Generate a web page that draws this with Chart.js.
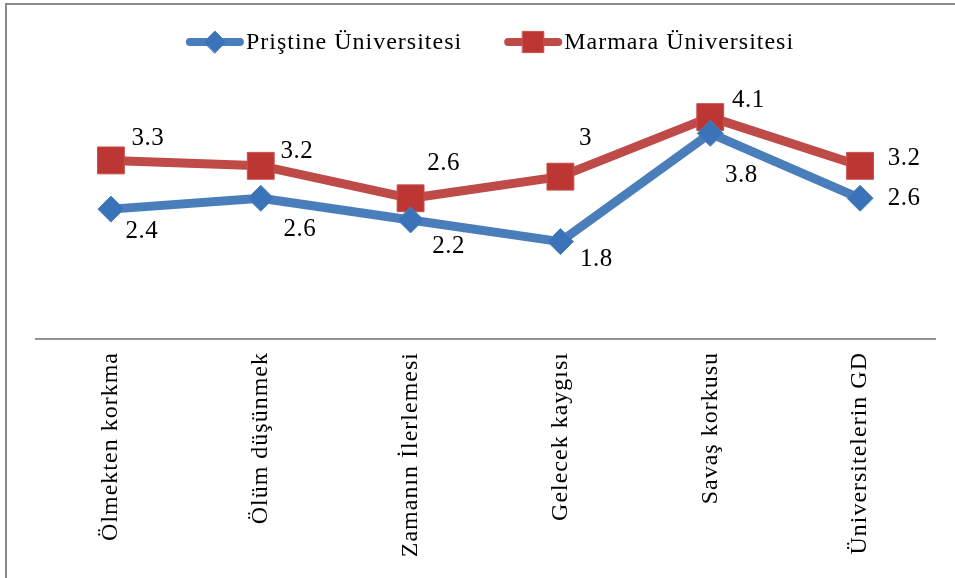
<!DOCTYPE html>
<html>
<head>
<meta charset="UTF-8">
<title>Priştine ve Marmara Üniversitesi</title>
<script src="https://cdn.jsdelivr.net/npm/chart.js"></script>
<style>
  html, body { margin: 0; padding: 0; background: #fff; }
  #box { position: relative; width: 955px; height: 578px; }
</style>
</head>
<body>
<div id="box"><canvas id="chart" width="955" height="578"></canvas></div>
<script>
const categories = ['Ölmekten korkma', 'Ölüm düşünmek', 'Zamanın İlerlemesi', 'Gelecek kaygısı', 'Savaş korkusu', 'Üniversitelerin GD'];
const seriesNames = ['Priştine Üniversitesi', 'Marmara Üniversitesi'];
const pristineValues = [2.4, 2.6, 2.2, 1.8, 3.8, 2.6];
const marmaraValues = [3.3, 3.2, 2.6, 3.0, 4.1, 3.2];

// where each value label sits relative to its point (px), as in the original
const labelShift = [
    [[31, 22], [39, 31], [38, 26], [36, 18], [31, 42], [44, 0]],
    [[37, -22], [36, -14], [33, -35], [25, -38], [38, -17], [44, -7]]
];

const serif = '"Liberation Serif", "Times New Roman", serif';

// grey frame at the top and left edge
const framePlugin = {
    id: 'frame',
    beforeDraw(chart) {
        const ctx = chart.ctx;
        ctx.save();
        ctx.fillStyle = '#8a8a8a';
        ctx.fillRect(5, 3, 950, 2);
        ctx.fillRect(5, 3, 2, 575);
        ctx.restore();
        // slightly spaced tick labels
        ctx.letterSpacing = '1px';
    },
    beforeDatasetsDraw(chart) {
        chart.ctx.letterSpacing = '0px';
    }
};

// numbers next to every point
const valueLabels = {
    id: 'valueLabels',
    afterDatasetsDraw(chart) {
        const ctx = chart.ctx;
        ctx.save();
        ctx.font = '25px ' + serif;
        ctx.letterSpacing = '0.5px';
        ctx.fillStyle = '#000';
        ctx.textAlign = 'center';
        ctx.textBaseline = 'middle';
        chart.data.datasets.forEach((ds, i) => {
            chart.getDatasetMeta(i).data.forEach((pt, j) => {
                const s = labelShift[i][j];
                ctx.fillText(String(ds.data[j]), pt.x + s[0], pt.y + s[1]);
            });
        });
        ctx.restore();
    }
};

// legend: thick line with the marker, text right after it
const legendIcons = {
    id: 'legendIcons',
    afterDraw(chart) {
        const ctx = chart.ctx;
        const y = 42, icon = 58, gapText = 2, gapItem = 42;
        ctx.save();
        ctx.font = '24px ' + serif;
        ctx.letterSpacing = '1px';
        ctx.textBaseline = 'middle';
        const items = chart.data.datasets.map(ds => ({ ds: ds, w: ctx.measureText(ds.label).width }));
        let total = 0;
        items.forEach((it, k) => { total += icon + gapText + it.w + (k ? gapItem : 0); });
        let x = 490 - total / 2;
        items.forEach(it => {
            ctx.strokeStyle = it.ds.borderColor;
            ctx.lineWidth = 8;
            ctx.lineCap = 'round';
            ctx.beginPath();
            ctx.moveTo(x + 4, y);
            ctx.lineTo(x + icon - 4, y);
            ctx.stroke();
            ctx.fillStyle = it.ds.pointBackgroundColor;
            ctx.strokeStyle = it.ds.pointBorderColor;
            ctx.lineWidth = 1;
            Chart.helpers.drawPoint(ctx, {
                pointStyle: it.ds.pointStyle,
                radius: it.ds.pointStyle === 'rect' ? 15 : 11,
                rotation: 0,
                borderWidth: 1
            }, x + icon / 2, y);
            ctx.fillStyle = '#000';
            ctx.fillText(it.ds.label, x + icon + gapText, y + 1);
            x += icon + gapText + it.w + gapItem;
        });
        ctx.restore();
    }
};

const ctx = document.getElementById('chart').getContext('2d');
const chart = new Chart(ctx, {
    type: 'line',
    data: {
        labels: categories,
        datasets: [{
            label: seriesNames[0],
            data: pristineValues,
            borderColor: '#4A7EBB',
            borderWidth: 9,
            borderJoinStyle: 'round',
            borderCapStyle: 'round',
            pointStyle: 'rectRot',
            pointRadius: 13,
            pointHoverRadius: 13,
            pointBackgroundColor: '#3B73B9',
            pointBorderColor: '#4A7EBB',
            pointBorderWidth: 1,
            tension: 0
        }, {
            label: seriesNames[1],
            data: marmaraValues,
            borderColor: '#BE4B48',
            borderWidth: 9,
            borderJoinStyle: 'round',
            borderCapStyle: 'round',
            pointStyle: 'rect',
            pointRadius: 19,
            pointHoverRadius: 19,
            pointBackgroundColor: '#BC3634',
            pointBorderColor: '#C9504D',
            pointBorderWidth: 1,
            tension: 0
        }]
    },
    options: {
        responsive: false,
        animation: false,
        layout: {
            padding: { top: 63, left: 36, right: 17, bottom: 0 }
        },
        plugins: {
            legend: { display: false },
            tooltip: { enabled: false }
        },
        scales: {
            x: {
                offset: true,
                grid: { display: false, drawTicks: false },
                border: { display: true, color: '#939393', width: 2 },
                ticks: {
                    autoSkip: false,
                    minRotation: 90,
                    maxRotation: 90,
                    padding: 13,
                    color: '#000',
                    font: { family: serif, size: 24 }
                },
                afterFit(scale) {
                    scale.height = 239;
                }
            },
            y: {
                display: false,
                min: 0,
                max: 5.1
            }
        }
    },
    plugins: [framePlugin, valueLabels, legendIcons]
});
</script>
</body>
</html>
